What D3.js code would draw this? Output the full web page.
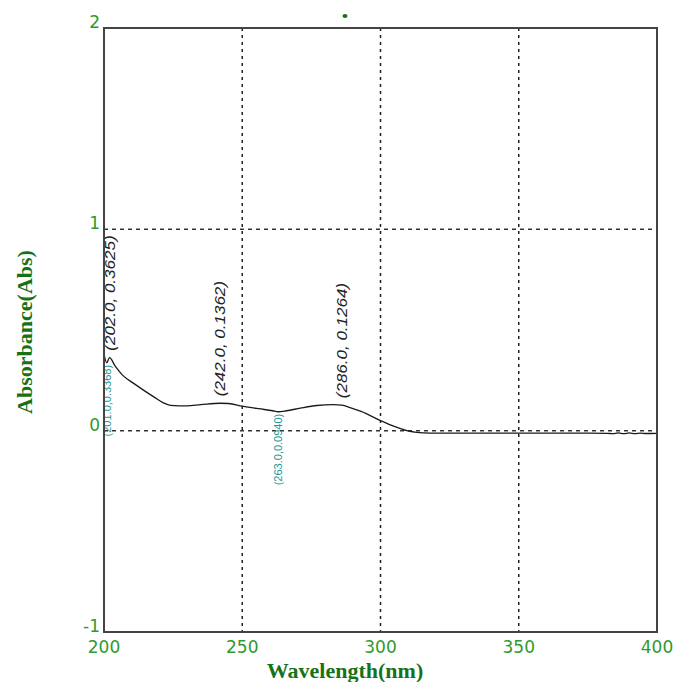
<!DOCTYPE html>
<html>
<head>
<meta charset="utf-8">
<script src="https://cdn.jsdelivr.net/npm/d3@7"></script>
<style>
  body { margin: 0; background: #fff; }
</style>
</head>
<body>
<svg id="chart" width="676" height="682"></svg>
<script>
// spectrum (nm, Abs)
var wavelength = [200, 201, 202, 204, 207, 210.6, 214, 218, 221.5, 224, 230, 235, 242, 245, 250, 256, 261, 263, 266, 271, 277, 283, 286, 289, 293, 300, 305, 309.5, 313, 318, 330, 345, 360, 375, 382, 384, 386, 388, 390, 392, 394, 396, 400]
var absorbance = [0.38, 0.3368, 0.3625, 0.322, 0.272, 0.236, 0.204, 0.168, 0.138, 0.126, 0.123, 0.129, 0.1362, 0.135, 0.122, 0.109, 0.099, 0.094, 0.099, 0.112, 0.125, 0.129, 0.1264, 0.115, 0.096, 0.050, 0.021, 0.0, -0.008, -0.012, -0.012, -0.012, -0.012, -0.012, -0.013, -0.015, -0.011, -0.015, -0.011, -0.015, -0.012, -0.014, -0.013]

// peak / valley annotations
var peakWl = [202, 242, 286]
var peakAbs = [0.3625, 0.1362, 0.1264]
var valleyWl = [201, 263]
var valleyAbs = [0.3368, 0.0940]

var xTicks = [200, 250, 300, 350, 400]
var yTicks = [-1, 0, 1, 2]
var xGrid = [250, 300, 350]
var yGrid = [0, 1]

var svg = d3.select("#chart")
var pLeft = 104, pRight = 657, pTop = 28, pBottom = 632

var x = d3.scaleLinear().domain([200, 400]).range([pLeft, pRight])
var y = d3.scaleLinear().domain([-1, 2]).range([pBottom, pTop])

var tickGreen = "#2f9a2f"
var titleGreen = "#177217"

// grid
svg.append("g").selectAll("line").data(xGrid).enter().append("line")
    .attr("x1", d => x(d)).attr("x2", d => x(d))
    .attr("y1", pTop).attr("y2", pBottom)
    .attr("stroke", "#222").attr("stroke-width", 1.5)
    .attr("stroke-dasharray", "3,4")
svg.append("g").selectAll("line").data(yGrid).enter().append("line")
    .attr("x1", pLeft).attr("x2", pRight)
    .attr("y1", d => y(d)).attr("y2", d => y(d))
    .attr("stroke", "#333").attr("stroke-width", 1.5)
    .attr("stroke-dasharray", "4,4")

// curve
var pts = wavelength.map((w, i) => [w, absorbance[i]])
svg.append("path")
    .datum(pts)
    .attr("d", d3.line().x(d => x(d[0])).y(d => y(d[1])).curve(d3.curveMonotoneX))
    .attr("fill", "none")
    .attr("stroke", "#1a1a1a")
    .attr("stroke-width", 1.3)

// peak labels (slightly condensed italic)
svg.append("g").selectAll("text").data(peakWl).enter().append("text")
    .attr("transform", (d, i) => "translate(" + x(d) + "," + (y(peakAbs[i]) - 7) + ") rotate(-90) scale(1,0.88)")
    .attr("dy", "0.35em")
    .attr("text-anchor", "start")
    .style("font-family", "'Liberation Sans Narrow', 'Liberation Sans', sans-serif")
    .style("font-style", "italic")
    .style("font-size", "17px")
    .style("fill", "#222")
    .text((d, i) => "(" + d.toFixed(1) + ", " + peakAbs[i].toFixed(4) + ")")

// valley labels
svg.append("g").selectAll("text").data(valleyWl).enter().append("text")
    .attr("transform", (d, i) => "translate(" + x(d) + "," + (y(valleyAbs[i]) + 2) + ") rotate(-90)")
    .attr("dy", "0.35em")
    .attr("text-anchor", "end")
    .style("font-family", "'Liberation Sans Narrow', 'Liberation Sans', sans-serif")
    .style("font-size", "11px")
    .style("fill", "#1f9898")
    .text((d, i) => "(" + d.toFixed(1) + "," + valleyAbs[i].toFixed(4) + ")")

// frame
svg.append("rect")
    .attr("x", pLeft).attr("y", pTop)
    .attr("width", pRight - pLeft).attr("height", pBottom - pTop)
    .attr("fill", "none").attr("stroke", "#444").attr("stroke-width", 2)

// tick labels
svg.append("g").selectAll("text").data(xTicks).enter().append("text")
    .attr("x", d => x(d)).attr("y", pBottom + 21)
    .attr("text-anchor", "middle")
    .style("font-family", "'DejaVu Sans', sans-serif")
    .style("font-size", "17px")
    .style("fill", tickGreen)
    .text(d => d)
svg.append("g").selectAll("text").data(yTicks).enter().append("text")
    .attr("x", pLeft - 4).attr("y", d => y(d))
    .attr("text-anchor", "end")
    .style("font-family", "'DejaVu Sans', sans-serif")
    .style("font-size", "17px")
    .style("fill", tickGreen)
    .text(d => d)

// axis titles
svg.append("text")
    .attr("x", 345).attr("y", 678)
    .attr("text-anchor", "middle")
    .style("font-family", "'Liberation Serif', serif")
    .style("font-weight", "bold")
    .style("font-size", "22px")
    .style("fill", titleGreen)
    .text("Wavelength(nm)")
svg.append("text")
    .attr("transform", "translate(32," + ((pTop + pBottom) / 2 + 2) + ") rotate(-90)")
    .attr("text-anchor", "middle")
    .style("font-family", "'Liberation Serif', serif")
    .style("font-weight", "bold")
    .style("font-size", "22px")
    .style("fill", titleGreen)
    .text("Absorbance(Abs)")

// tiny title mark above the plot
svg.append("ellipse")
    .attr("cx", 345).attr("cy", 16).attr("rx", 2.5).attr("ry", 2)
    .attr("fill", titleGreen)
</script>
</body>
</html>
